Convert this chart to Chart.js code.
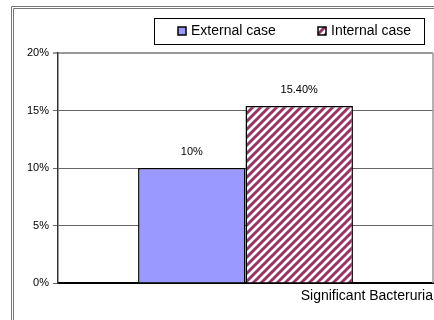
<!DOCTYPE html>
<html lang="en">
<head>
    <meta charset="UTF-8">
    <title>Significant Bacteruria</title>
    <script src="https://cdn.jsdelivr.net/npm/chart.js"></script>
    <style>
        html, body { margin: 0; padding: 0; background: #fff; }
        #wrap { width: 434px; height: 320px; }
    </style>
</head>
<body>
    <div id="wrap"><canvas id="barChart"></canvas></div>
    <script>
        const categories = ['Significant Bacteruria'];
        const seriesNames = ['External case', 'Internal case'];
        const externalValues = [0.10];
        const internalValues = [0.154];
        const valueLabels = [['10%'], ['15.40%']];
        const yTicks = [0, 0.05, 0.10, 0.15, 0.20];

        const FONT = '"Liberation Sans", Arial, sans-serif';

        // diagonal hatch for the second series
        function makeHatch() {
            const c = document.createElement('canvas');
            c.width = 8; c.height = 8;
            const g = c.getContext('2d');
            g.fillStyle = '#fff';
            g.fillRect(0, 0, 8, 8);
            g.strokeStyle = '#993366';
            g.lineWidth = 3;
            g.beginPath();
            g.moveTo(-4, 4); g.lineTo(4, -4);
            g.moveTo(0, 8); g.lineTo(8, 0);
            g.moveTo(4, 12); g.lineTo(12, 4);
            g.stroke();
            return g.createPattern(c, 'repeat');
        }
        const hatch = makeHatch();

        const decorPlugin = {
            id: 'decor',
            beforeDraw(chart) {
                const ctx = chart.ctx;
                ctx.save();
                ctx.strokeStyle = '#777';
                ctx.lineWidth = 1;
                ctx.beginPath();
                ctx.moveTo(11.5, 330); ctx.lineTo(11.5, 6.5); ctx.lineTo(440, 6.5);
                ctx.moveTo(13.5, 330); ctx.lineTo(13.5, 8.5); ctx.lineTo(440, 8.5);
                ctx.stroke();
                ctx.restore();
            },
            afterDatasetsDraw(chart) {
                const ctx = chart.ctx;
                const area = chart.chartArea;
                ctx.save();
                // plot area right edge
                ctx.strokeStyle = '#999';
                ctx.lineWidth = 1.5;
                ctx.beginPath();
                ctx.moveTo(area.right, area.top);
                ctx.lineTo(area.right, area.bottom);
                ctx.stroke();

                // value labels above bars
                ctx.fillStyle = '#000';
                ctx.font = '11px ' + FONT;
                ctx.textAlign = 'center';
                ctx.textBaseline = 'middle';
                chart.data.datasets.forEach((ds, i) => {
                    chart.getDatasetMeta(i).data.forEach((bar, j) => {
                        ctx.fillText(valueLabels[i][j], bar.x, bar.y - 16);
                    });
                });

                // legend box
                ctx.strokeStyle = '#000';
                ctx.lineWidth = 1;
                ctx.strokeRect(154.5, 18.5, 270, 26);
                const xs = [178, 318];
                ctx.font = '14px ' + FONT;
                ctx.textAlign = 'left';
                chart.data.datasets.forEach((ds, i) => {
                    ctx.fillStyle = ds.backgroundColor;
                    ctx.fillRect(xs[i], 27, 8, 8);
                    ctx.lineWidth = 1.5;
                    ctx.strokeRect(xs[i], 27, 8, 8);
                    ctx.fillStyle = '#000';
                    ctx.fillText(ds.label, xs[i] + 13, 31.5);
                });
                ctx.restore();
            }
        };

        new Chart(document.getElementById('barChart'), {
            type: 'bar',
            data: {
                labels: categories,
                datasets: [
                    {
                        label: seriesNames[0],
                        data: externalValues,
                        backgroundColor: '#9999ff',
                        borderColor: '#000',
                        borderWidth: 1.5,
                        categoryPercentage: 0.573,
                        barPercentage: 1
                    },
                    {
                        label: seriesNames[1],
                        data: internalValues,
                        backgroundColor: hatch,
                        borderColor: '#000',
                        borderWidth: 1.5,
                        categoryPercentage: 0.573,
                        barPercentage: 1
                    }
                ]
            },
            options: {
                responsive: true,
                maintainAspectRatio: false,
                animation: false,
                layout: { padding: { top: 53, right: 1, left: 0, bottom: 0 } },
                scales: {
                    x: {
                        grid: { display: false },
                        border: { color: '#000', width: 2 },
                        ticks: { display: false },
                        title: {
                            display: true,
                            text: categories[0],
                            align: 'end',
                            color: '#000',
                            font: { family: FONT, size: 14 },
                            padding: { top: 4, bottom: 15 }
                        },
                        afterFit(scale) { scale.height = 37; }
                    },
                    y: {
                        min: 0,
                        max: 0.2,
                        afterBuildTicks(scale) {
                            scale.ticks = yTicks.map(v => ({ value: v }));
                        },
                        ticks: {
                            color: '#000',
                            padding: 4,
                            font: { family: FONT, size: 11 },
                            callback: v => Math.round(v * 100) + '%'
                        },
                        grid: {
                            tickLength: 5,
                            color: ctx => ctx.tick && ctx.tick.value >= 0.2 ? '#9a9a9a' : '#666',
                            lineWidth: ctx => ctx.tick && ctx.tick.value >= 0.2 ? 2 : 1
                        },
                        border: { color: '#333', width: 1.5 },
                        afterFit(scale) { scale.width = 58; }
                    }
                },
                plugins: {
                    legend: { display: false },
                    tooltip: { enabled: false }
                }
            },
            plugins: [decorPlugin]
        });
    </script>
</body>
</html>
